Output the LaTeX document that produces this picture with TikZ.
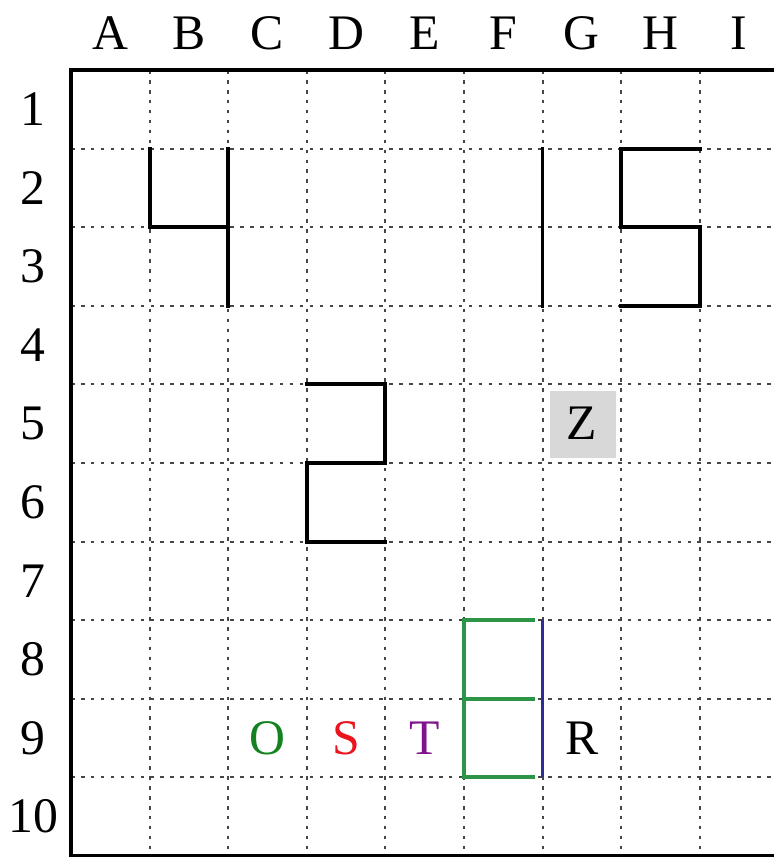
\documentclass[tikz,border=0pt]{standalone}
\usepackage{fontspec}
\setmainfont{Liberation Serif}
\definecolor{gridgray}{RGB}{70,70,70}
\definecolor{zgray}{RGB}{216,216,216}
\definecolor{egreen}{RGB}{45,150,70}
\definecolor{ogreen}{RGB}{20,130,30}
\definecolor{sred}{RGB}{235,20,30}
\definecolor{tpurple}{RGB}{128,20,140}
\definecolor{rblue}{RGB}{45,45,150}
\begin{document}
\begin{tikzpicture}[
  gridline/.style={gridgray, line width=0.75pt, dash pattern=on 1.3pt off 2.3pt},
  border/.style={black, line width=1.4pt},
  digit/.style={black, line width=1.4pt, line cap=rect, line join=miter},
  lbl/.style={font=\fontsize{18}{21}\selectfont, inner sep=0pt},
]
\clip (-0.903,0.891) rectangle (8.944,-10.013);
\useasboundingbox (-0.903,0.891) rectangle (8.944,-10.013);
% grid
\foreach \i in {1,...,8} \draw[gridline] (\i,0) -- (\i,-10);
\foreach \j in {1,...,9} \draw[gridline] (0,-\j) -- (9.2,-\j);
\draw[border] (0,0) rectangle (9,-10);
% column labels
\foreach \c [count=\k] in {A,B,C,D,E,F,G,H,I}
  \node[lbl] (col\c) at (\k-0.5,0.47) {\c};
% row labels
\foreach \r in {1,...,10}
  \node[lbl] (row\r) at (-0.48,-\r+0.5) {\r};
% Z box
\fill[zgray] (6.09,-4.08) rectangle (6.94,-4.94);
\node[lbl] (z) at (6.5,-4.5) {Z};
% digit 4
\draw[digit] (1,-1) -- (1,-2) -- (2,-2);
\draw[digit] (2,-1) -- (2,-3);
% digit 1
\draw[digit] (6,-1) -- (6,-3);
% digit 5
\draw[digit] (8,-1) -- (7,-1) -- (7,-2) -- (8,-2) -- (8,-3) -- (7,-3);
% digit 2
\draw[digit] (3,-4) -- (4,-4) -- (4,-5) -- (3,-5) -- (3,-6) -- (4,-6);
% green E
\draw[egreen, line width=1.4pt] (5.9,-7) -- (5,-7) -- (5,-9) -- (5.9,-9);
\draw[egreen, line width=1.4pt] (5,-8) -- (5.9,-8);
% blue bar
\draw[rblue, line width=1.4pt] (6,-7) -- (6,-9);
% letters row 9
\node[lbl, text=ogreen] (o) at (2.5,-8.5) {O};
\node[lbl, text=sred] (s) at (3.5,-8.5) {S};
\node[lbl, text=tpurple] (t) at (4.5,-8.5) {T};
\node[lbl] (r) at (6.5,-8.5) {R};
\end{tikzpicture}
\end{document}
